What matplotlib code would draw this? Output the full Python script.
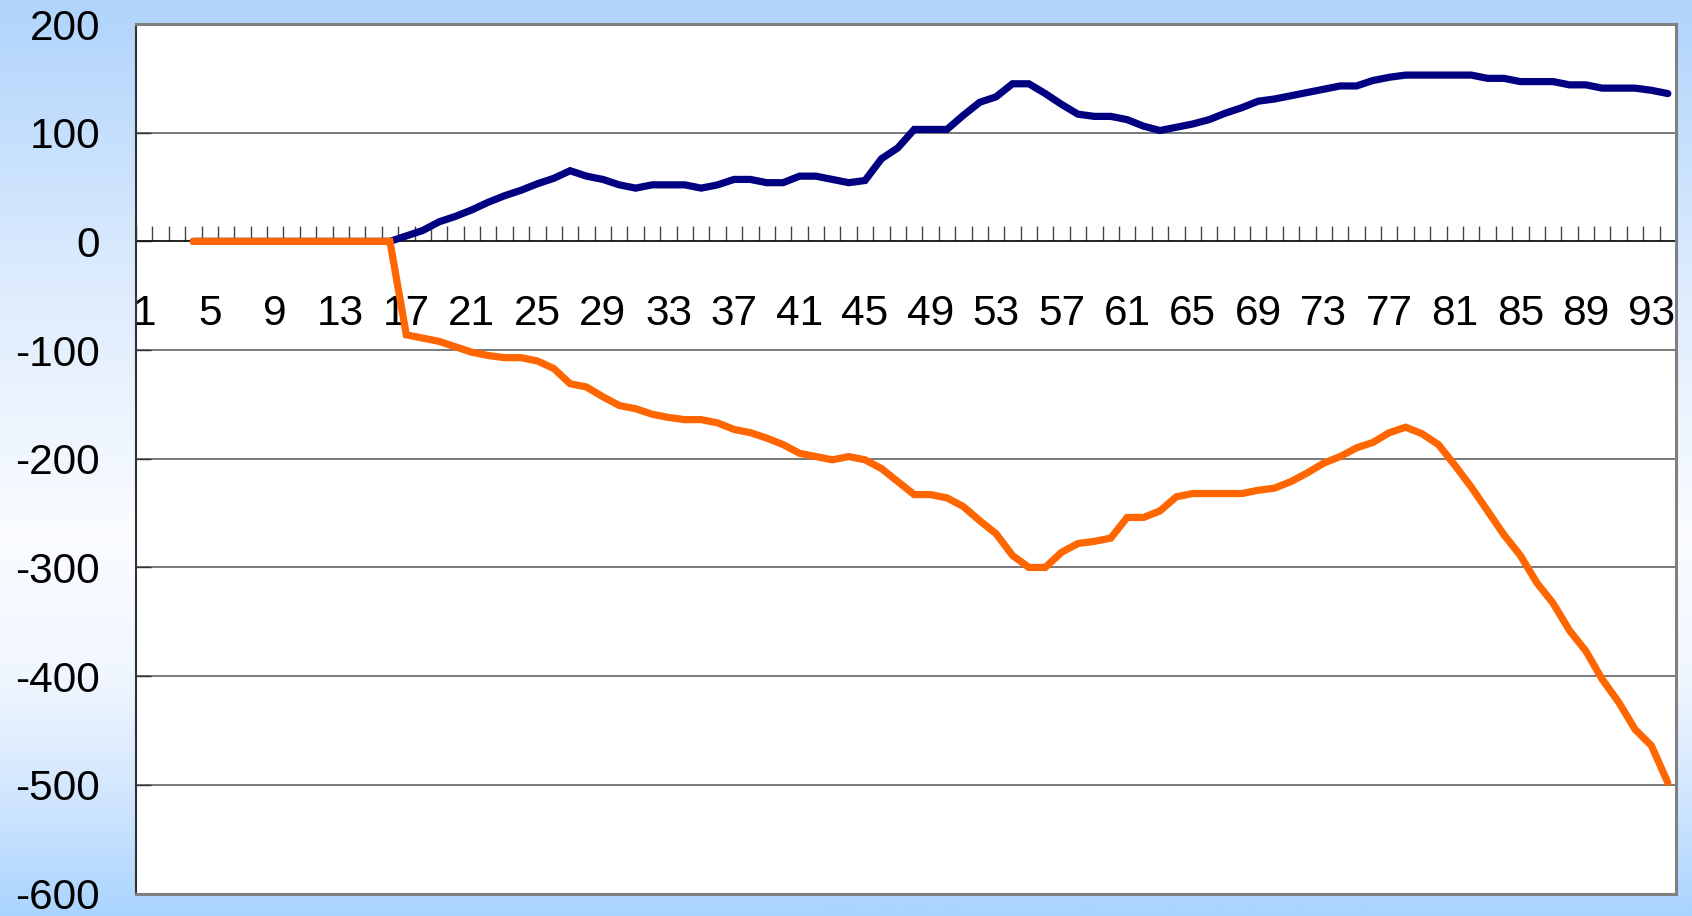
import numpy as np
import matplotlib
matplotlib.use("Agg")
import matplotlib.pyplot as plt
from matplotlib.colors import LinearSegmentedColormap

# ---- data ----
categories = list(range(1, 95))
nan = float("nan")
blue_values = [nan] * 3 + [0] * 13 + [
    5, 10, 18, 23, 29, 36, 42, 47, 53, 58, 65, 60, 57, 52, 49, 52, 52, 52, 49, 52,
    57, 57, 54, 54, 60, 60, 57, 54, 56, 76, 86, 103, 103, 103, 116, 128, 133, 145, 145, 136,
    126, 117, 115, 115, 112, 106, 102, 105, 108, 112, 118, 123, 129, 131, 134, 137, 140, 143, 143, 148,
    151, 153, 153, 153, 153, 153, 150, 150, 147, 147, 147, 144, 144, 141, 141, 141, 139, 136]
orange_values = [nan] * 3 + [0] * 13 + [
    -86, -89, -92, -97, -102, -105, -107, -107, -110, -117, -131, -134, -143, -151, -154, -159, -162, -164, -164, -167,
    -173, -176, -181, -187, -195, -198, -201, -198, -201, -209, -221, -233, -233, -236, -244, -257, -269, -289, -300, -300,
    -286, -278, -276, -273, -254, -254, -248, -235, -232, -232, -232, -232, -229, -227, -221, -213, -204, -198, -190, -185,
    -176, -171, -177, -187, -206, -226, -248, -270, -289, -314, -333, -358, -377, -403, -424, -449, -464, -498]
y_ticks = [200, 100, 0, -100, -200, -300, -400, -500, -600]
x_label_positions = list(range(1, 95, 4))

W, H, DPI = 1692, 916, 100
fig = plt.figure(figsize=(W / DPI, H / DPI), dpi=DPI)

# background gradient
bg = fig.add_axes([0, 0, 1, 1], zorder=0)
bg.axis("off")
cmap = LinearSegmentedColormap.from_list(
    "bg", [(0.0, "#b0d4fc"), (0.3, "#dcebfd"), (0.58, "#fafcff"), (0.74, "#f0f6ff"),
           (0.88, "#cfe5fe"), (1.0, "#aad4fe")])
grad = np.linspace(0, 1, 512).reshape(-1, 1)
bg.imshow(grad, aspect="auto", cmap=cmap, extent=[0, 1, 0, 1], origin="upper")
bg.set_xlim(0, 1)
bg.set_ylim(0, 1)

left, right = 136 / W, 1676 / W
top, bottom = 1 - 24 / H, 1 - 893.5 / H
ax = fig.add_axes([left, bottom, right - left, top - bottom], zorder=1)
ax.set_facecolor("white")

x = np.array(categories)
ax.plot(x, blue_values, color="#000080", lw=5.2, solid_capstyle="round", solid_joinstyle="miter", zorder=3)
ax.plot(x, orange_values, color="#ff6600", lw=5.2, solid_capstyle="round", solid_joinstyle="miter", zorder=4)

ax.set_xlim(0.5, 94.5)
ax.set_ylim(-600, 200)

# y axis
ax.set_yticks(y_ticks)
ax.set_yticklabels([str(v) for v in y_ticks], fontfamily="Liberation Sans", fontsize=30.5)
ax.tick_params(axis="y", direction="in", length=11, width=1.0, color="#333333", pad=26)
for v in y_ticks:
    if v not in (200, -600, 0):
        ax.axhline(v, color="#555555", lw=1.1, zorder=1)

# x axis at zero
ax.spines["bottom"].set_position(("data", 0))
ax.spines["bottom"].set_color("#111111")
ax.spines["bottom"].set_linewidth(1.3)
ax.spines["bottom"].set_zorder(2)
ax.set_xticks(np.arange(0.5, 95, 1.0))
ax.set_xticklabels([])
ax.tick_params(axis="x", which="major", direction="in", length=11, width=1.0, color="#444444")
ax.set_xticks(x_label_positions, minor=True)
ax.set_xticklabels([str(v) for v in x_label_positions], minor=True,
                   fontfamily="Liberation Sans", fontsize=30.5)
ax.tick_params(axis="x", which="minor", length=0, pad=38)

ax.spines["left"].set_color("#333333")
ax.spines["left"].set_linewidth(1.5)
for s in ("top", "right"):
    ax.spines[s].set_visible(False)

# outer frame (top, right, bottom)
ax.plot([0, 1], [1, 1], transform=ax.transAxes, color="#808080", lw=2.2, clip_on=False, zorder=5)
ax.plot([1, 1], [0, 1], transform=ax.transAxes, color="#808080", lw=2.2, clip_on=False, zorder=5)
ax.plot([0, 1], [0, 0], transform=ax.transAxes, color="#808080", lw=2.2, clip_on=False, zorder=5)

fig.savefig("out.png", dpi=DPI)
